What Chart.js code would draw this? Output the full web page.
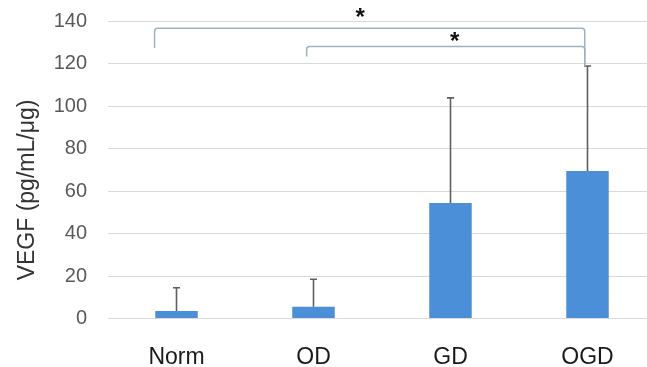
<!DOCTYPE html>
<html>
<head>
<meta charset="utf-8">
<script src="https://cdn.jsdelivr.net/npm/chart.js@4/dist/chart.umd.min.js"></script>
<style>
  html, body { margin: 0; padding: 0; background: #fff; overflow: hidden; width: 647px; height: 367px; }
  #wrap { position: absolute; left: 0; top: 0; width: 665px; height: 367px; }
</style>
</head>
<body>
<div id="wrap"><canvas id="c" width="665" height="367"></canvas></div>
<script>
const categories = ['Norm', 'OD', 'GD', 'OGD'];
const means = [3.5, 5.5, 54.5, 69.5];
const errorsUp = [11, 13, 49.5, 49.5];
const yTicks = [0, 20, 40, 60, 80, 100, 120, 140];
const yTitle = 'VEGF (pg/mL/μg)';
// significance brackets: start/end category position, bar level, leg bottoms, star position
const bracketFrom = [-0.16, 0.95];
const bracketTo = [2.98, 2.98];
const bracketLevel = [136.8, 128.2];
const bracketLegLeft = [127.5, 123.5];
const bracketLegRight = [119, 119];
const starX = [1.34, 2.03];
const starY = [143.6, 132.7];
const starLabels = ['*', '*'];

const overlay = {
  id: 'overlay',
  afterDatasetsDraw(chart) {
    const ctx = chart.ctx;
    const x = chart.scales.x, y = chart.scales.y;
    ctx.save();
    // error bars
    ctx.strokeStyle = '#5f5f5f';
    ctx.lineWidth = 1.6;
    means.forEach((m, i) => {
      const px = x.getPixelForValue(i);
      const y0 = y.getPixelForValue(m);
      const y1 = y.getPixelForValue(m + errorsUp[i]);
      ctx.beginPath();
      ctx.moveTo(px, y0); ctx.lineTo(px, y1);
      ctx.moveTo(px - 3.5, y1); ctx.lineTo(px + 3.5, y1);
      ctx.stroke();
    });
    // brackets
    ctx.strokeStyle = '#9fb3bf';
    ctx.lineWidth = 1.5;
    bracketFrom.forEach((f, i) => {
      const xa = x.getPixelForValue(f), xb = x.getPixelForValue(bracketTo[i]);
      const yl = y.getPixelForValue(bracketLevel[i]);
      ctx.beginPath();
      ctx.moveTo(xa, y.getPixelForValue(bracketLegLeft[i]));
      ctx.lineTo(xa, yl + 3);
      ctx.quadraticCurveTo(xa, yl, xa + 3, yl);
      ctx.lineTo(xb - 3, yl);
      ctx.quadraticCurveTo(xb, yl, xb, yl + 3);
      ctx.lineTo(xb, y.getPixelForValue(bracketLegRight[i]));
      ctx.stroke();
      ctx.fillStyle = '#111';
      ctx.font = 'bold 24px "Liberation Sans", Arial, sans-serif';
      ctx.textAlign = 'center';
      ctx.textBaseline = 'middle';
      ctx.fillText(starLabels[i], x.getPixelForValue(starX[i]), y.getPixelForValue(starY[i]) + 5);
    });
    // y-axis title
    ctx.translate(28, 190);
    ctx.rotate(-Math.PI / 2);
    ctx.fillStyle = '#333';
    ctx.font = '23px "Liberation Sans", Arial, sans-serif';
    ctx.textAlign = 'center';
    ctx.textBaseline = 'middle';
    ctx.fillText(yTitle, 0, 0);
    ctx.restore();
  }
};

new Chart(document.getElementById('c'), {
  type: 'bar',
  data: {
    labels: categories,
    datasets: [{
      data: means,
      backgroundColor: '#4a8fd8',
      borderWidth: 0,
      barPercentage: 0.31,
      categoryPercentage: 1.0
    }]
  },
  options: {
    responsive: false,
    animation: false,
    devicePixelRatio: 1,
    layout: { padding: { top: 21.5, left: 0, right: 9, bottom: 0 } },
    plugins: { legend: { display: false }, tooltip: { enabled: false } },
    scales: {
      x: {
        grid: { display: false, drawTicks: false },
        border: { display: false },
        ticks: {
          color: '#1a1a1a',
          padding: 25,
          font: { family: '"Liberation Sans", Arial, sans-serif', size: 23 }
        },
        afterFit(s) { s.height = 48.5; }
      },
      y: {
        min: 0, max: 140,
        afterBuildTicks(s) { s.ticks = yTicks.map(v => ({ value: v })); },
        grid: { color: '#d9d9d9', lineWidth: 1, drawTicks: false },
        border: { display: false },
        ticks: {
          color: '#595959',
          padding: 21,
          font: { family: '"Liberation Sans", Arial, sans-serif', size: 20 }
        },
        title: { display: false },
        afterFit(s) { s.width = 108; s.paddingTop = 0; s.paddingBottom = 0; }
      }
    }
  },
  plugins: [overlay]
});
</script>
</body>
</html>
